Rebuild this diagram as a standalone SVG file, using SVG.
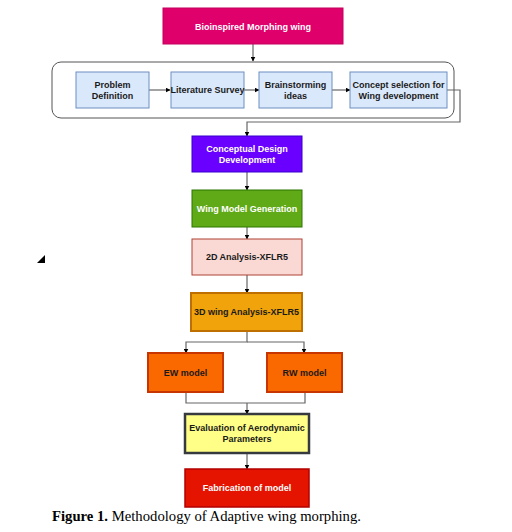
<svg xmlns="http://www.w3.org/2000/svg" width="512" height="532" viewBox="0 0 512 532">
<style>
.t{font-family:"Liberation Sans",Arial,sans-serif;font-size:9px;font-weight:bold;text-anchor:middle;dominant-baseline:central}
.w{fill:#ffffff}
.k{fill:#1a1a1a}
.ln{fill:none;stroke:#666666;stroke-width:1.2}
.blue{fill:#dae8fc;stroke:#6c8ebf;stroke-width:1}
</style>
<defs>
<marker id="ah" viewBox="0 0 10 10" refX="9" refY="5" markerWidth="5" markerHeight="5" orient="auto" markerUnits="userSpaceOnUse">
<path d="M0,0 L10,5 L0,10 z" fill="#000000"/>
</marker>
</defs>
<rect width="512" height="532" fill="#ffffff"/>
<g id="connectors">
<path class="ln" d="M253,44 V61" marker-end="url(#ah)"/>
<path class="ln" d="M149,90 H170" marker-end="url(#ah)"/>
<path class="ln" d="M244,90 H259" marker-end="url(#ah)"/>
<path class="ln" d="M332,90 H350" marker-end="url(#ah)"/>
<path class="ln" d="M447,90 H460 V122 H247 V136" marker-end="url(#ah)"/>
<path class="ln" d="M247,172 V190" marker-end="url(#ah)"/>
<path class="ln" d="M247,227 V239" marker-end="url(#ah)"/>
<path class="ln" d="M247,275 V293" marker-end="url(#ah)"/>
<path class="ln" d="M247,331 V342 H186 V353" marker-end="url(#ah)"/>
<path class="ln" d="M247,342 H304 V353" marker-end="url(#ah)"/>
<path class="ln" d="M186,392 V403 H305 V392"/>
<path class="ln" d="M247,403 V414" marker-end="url(#ah)"/>
<path class="ln" d="M247,453 V469" marker-end="url(#ah)"/>
</g>
<g id="n-bioinspired">
<rect x="163" y="8" width="180" height="36" fill="#e0006b" stroke="#c2005d" stroke-width="1"/>
<text class="t w" x="253" y="27">Bioinspired Morphing wing</text>
</g>
<g id="n-group">
<rect x="52" y="62" width="402" height="56" rx="9" fill="none" stroke="#555555" stroke-width="1"/>
</g>
<g id="n-problem">
<rect class="blue" x="76" y="72" width="73" height="36"/>
<text class="t k" x="112.5" y="85">Problem</text>
<text class="t k" x="112.5" y="96">Definition</text>
</g>
<g id="n-literature">
<rect class="blue" x="171" y="72" width="73" height="36"/>
<text class="t k" x="207.5" y="90">Literature Survey</text>
</g>
<g id="n-brainstorm">
<rect class="blue" x="259" y="72" width="73" height="36"/>
<text class="t k" x="295.5" y="85">Brainstorming</text>
<text class="t k" x="295.5" y="96">ideas</text>
</g>
<g id="n-concept">
<rect class="blue" x="350" y="72" width="97" height="36"/>
<text class="t k" x="398.5" y="85">Concept selection for</text>
<text class="t k" x="398.5" y="96">Wing development</text>
</g>
<g id="n-conceptual">
<rect x="192" y="136" width="110" height="36" fill="#6a00ff" stroke="#3700cc" stroke-width="1"/>
<text class="t w" x="247" y="149">Conceptual Design</text>
<text class="t w" x="247" y="159.5">Development</text>
</g>
<g id="n-wingmodel">
<rect x="192" y="190" width="110" height="37" fill="#60a917" stroke="#2d7600" stroke-width="1"/>
<text class="t w" x="247" y="208.5">Wing Model Generation</text>
</g>
<g id="n-2d">
<rect x="192" y="239" width="110" height="36" fill="#fad9d5" stroke="#ae4132" stroke-width="1"/>
<text class="t k" x="247" y="257">2D Analysis-XFLR5</text>
</g>
<g id="n-3d">
<rect x="191" y="293" width="111" height="38" fill="#f0a30a" stroke="#bd7000" stroke-width="2"/>
<text class="t k" x="246.5" y="312">3D wing Analysis-XFLR5</text>
</g>
<g id="n-ew">
<rect x="148" y="353" width="75" height="39" fill="#fa6800" stroke="#c73500" stroke-width="2"/>
<text class="t k" x="185.5" y="372.5">EW model</text>
</g>
<g id="n-rw">
<rect x="267" y="353" width="75" height="39" fill="#fa6800" stroke="#c73500" stroke-width="2"/>
<text class="t k" x="304.5" y="372.5">RW model</text>
</g>
<g id="n-eval">
<rect x="185" y="414" width="124" height="39" fill="#ffff88" stroke="#36393d" stroke-width="2.5"/>
<text class="t k" x="247" y="428">Evaluation of Aerodynamic</text>
<text class="t k" x="247" y="439">Parameters</text>
</g>
<g id="n-fab">
<rect x="185" y="469" width="124" height="38" fill="#e51400" stroke="#b20000" stroke-width="1.5"/>
<text class="t w" x="247" y="488">Fabrication of model</text>
</g>
<polygon points="45,255 45,263 37,263" fill="#000000"/>
<text x="52" y="520.5" font-family="'Liberation Serif','Times New Roman',serif" font-size="14.7" fill="#000000"><tspan font-weight="bold">Figure 1.</tspan> Methodology of Adaptive wing morphing.</text>
</svg>
